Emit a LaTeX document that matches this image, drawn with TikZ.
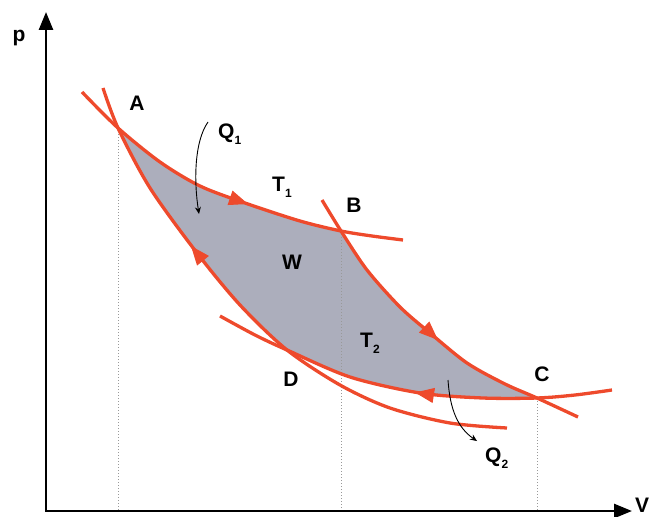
\documentclass[tikz,border=0pt]{standalone}
\usepackage{fontspec}
\setmainfont{Liberation Sans}
\usetikzlibrary{arrows.meta}
\definecolor{cyc}{RGB}{238,74,44}
\definecolor{area}{RGB}{172,174,188}
\newcommand\mysub[1]{\raisebox{-6pt}{\fontsize{12}{12}\selectfont #1}}
\begin{document}
\begin{tikzpicture}[x=1pt,y=-1pt,
  curve/.style={draw=cyc,line width=3.3pt},
  flow/.style={cyc,line width=1pt,-{Triangle[length=19pt,width=15pt]}},
  lbl/.style={font=\fontsize{21}{21}\selectfont\bfseries, inner sep=0pt},
  axis/.style={line width=2.6pt,line join=miter},
  guide/.style={gray!80, dotted, line width=1pt},
  heat/.style={line width=0.9pt, -{Stealth[length=7pt,width=6pt]}}
]
\useasboundingbox (0,0) rectangle (655,516);
% key points
\coordinate (A) at (118,128);
\coordinate (B) at (341,231);
\coordinate (C) at (537,398);
\coordinate (D) at (287,350);
\coordinate (O) at (46,511);
\coordinate (ytip) at (46,12);
\coordinate (xtip) at (632,511);
% shaded cycle area
\fill[area] plot[smooth] coordinates {(A) (160,162) (200,186) (245,203) (300,221) (B)}
  -- plot[smooth] coordinates {(B) (367,270) (400,307) (430,333) (467,363) (505,384) (C)}
  -- plot[smooth] coordinates {(C) (483,398) (420,393) (350,377) (D)}
  -- plot[smooth] coordinates {(D) (240,305) (197,253) (150,188) (A)} -- cycle;
% guides
\draw[guide] (A) -- (A |- O);
\draw[guide] (B) -- (B |- O);
\draw[guide] (C) -- (C |- O);
% axes
\draw[axis,{Triangle[length=18pt,width=14pt]}-{Triangle[length=18pt,width=14pt]}] (ytip) -- (O) -- (xtip);
% isotherm T1
\draw[curve] plot[smooth] coordinates {(82,92) (A) (160,162) (200,186) (245,203) (300,221) (B) (372,236) (403,240)};
% adiabat through A and D
\draw[curve] plot[smooth] coordinates {(103,88) (A) (150,188) (197,253) (240,305) (D) (340,385) (390,408) (450,423) (507,428)};
% adiabat through B and C
\draw[curve] plot[smooth] coordinates {(322,200) (B) (367,270) (400,307) (430,333) (467,363) (505,384) (C) (578,417)};
% isotherm T2
\draw[curve] plot[smooth] coordinates {(220,316) (255,335) (D) (350,377) (420,393) (483,398) (C) (575,395) (612,390)};
% direction arrows
\coordinate (ab1) at (232,198.5); \coordinate (ab2) at (248,204);
\coordinate (bc1) at (423,326); \coordinate (bc2) at (438,340);
\coordinate (cd1) at (434,395.5); \coordinate (cd2) at (415,392.5);
\coordinate (da1) at (204,262); \coordinate (da2) at (191,246);
\draw[flow] (ab1) -- (ab2);
\draw[flow] (bc1) -- (bc2);
\draw[flow] (cd1) -- (cd2);
\draw[flow] (da1) -- (da2);
% heat arrows
\coordinate (q1s) at (208,122); \coordinate (q1e) at (199,214);
\coordinate (q2s) at (448,380); \coordinate (q2e) at (477,441);
\draw[heat] (q1s) .. controls (194,142) and (194,182) .. (q1e);
\draw[heat] (q2s) .. controls (450,410) and (458,428) .. (q2e);
% labels
\node[lbl,anchor=base] (lp) at (19,42) {p};
\node[lbl] (lA) at (137,103) {A};
\node[lbl] (lB) at (354,205) {B};
\node[lbl] (lC) at (542,374) {C};
\node[lbl] (lD) at (291,379) {D};
\node[lbl] (lW) at (292,262) {W};
\node[lbl] (lV) at (642,505) {V};
\node[lbl,anchor=base west] (lQ1) at (218,138) {Q\mysub{1}};
\node[lbl,anchor=base west] (lT1) at (272,191) {T\mysub{1}};
\node[lbl,anchor=base west] (lT2) at (360,347) {T\mysub{2}};
\node[lbl,anchor=base west] (lQ2) at (485,462) {Q\mysub{2}};
\end{tikzpicture}
\end{document}
